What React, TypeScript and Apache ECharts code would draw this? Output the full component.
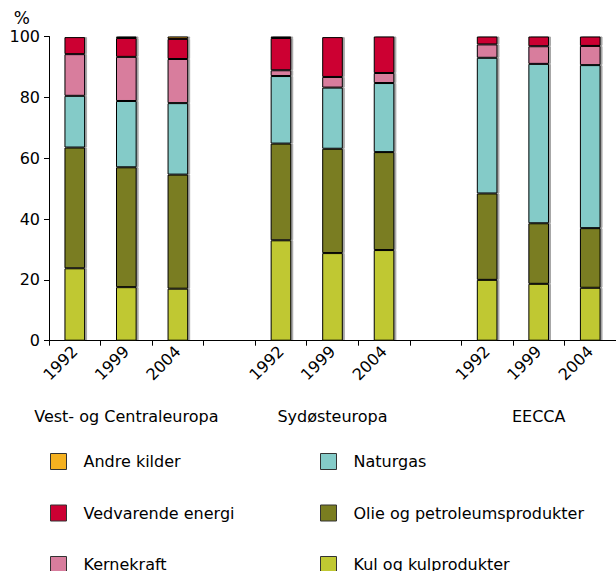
import React, { useEffect, useRef } from "react";
import * as echarts from "echarts";

const categories = ["1992", "1999", "2004", "", "1992", "1999", "2004", "", "1992", "1999", "2004"];
const groupLabels = ["", "Vest- og Centraleuropa", "", "", "", "Sydøsteuropa", "", "", "", "EECCA", ""];
const yTicks = [0, 20, 40, 60, 80, 100];

const kul = [23.8, 17.6, 17.1, null, 33.0, 28.8, 29.8, null, 20.0, 18.7, 17.4];
const olie = [39.7, 39.4, 37.5, null, 31.8, 34.3, 32.2, null, 28.4, 19.9, 19.6];
const naturgas = [17.0, 21.8, 23.5, null, 22.2, 20.1, 22.7, null, 44.6, 52.4, 53.6];
const kernekraft = [13.7, 14.5, 14.5, null, 1.9, 3.5, 3.3, null, 4.4, 5.8, 6.3];
const vedvarende = [5.6, 6.2, 6.6, null, 10.6, 13.1, 12.0, null, 2.6, 3.2, 3.1];
const andre = [0.2, 0.5, 0.8, null, 0.5, 0.2, 0.0, null, 0.0, 0.0, 0.0];

const FONT = "DejaVu Sans";

export default function App() {
  const ref = useRef<HTMLDivElement>(null);
  useEffect(() => {
    if (!ref.current) return;
    const chart = echarts.init(ref.current, null, { renderer: "svg" });
    const mk = (name: string, data: (number | null)[], color: string) => ({
      name,
      type: "bar",
      stack: "total",
      xAxisIndex: 0,
      data,
      barWidth: "40%",
      itemStyle: {
        color,
        borderColor: "#000",
        borderWidth: 1,
        shadowColor: "rgba(0,0,0,0.35)",
        shadowOffsetX: 2,
        shadowBlur: 0,
      },
    });
    const legendCommon = {
      orient: "vertical",
      icon: "rect",
      padding: 0,
      itemWidth: 16,
      itemHeight: 16,
      itemGap: 34.5,
      height: 140,
      itemStyle: { borderColor: "#333", borderWidth: 1 },
      textStyle: { fontFamily: FONT, fontSize: 16, color: "#000", padding: [0, 0, 0, 12] },
      selectedMode: false,
    };
    chart.setOption({
      animation: false,
      textStyle: { fontFamily: FONT },
      grid: { left: 49, right: 0, top: 36.5, bottom: 230.3, containLabel: false },
      legend: [
        { ...legendCommon, left: 50, top: 453, data: ["Andre kilder", "Vedvarende energi", "Kernekraft"] },
        { ...legendCommon, left: 320, top: 453, data: ["Naturgas", "Olie og petroleumsprodukter", "Kul og kulprodukter"] },
      ],
      xAxis: [
        {
          type: "category",
          data: categories,
          boundaryGap: true,
          axisLine: { lineStyle: { color: "#000", width: 1 } },
          axisTick: { show: true, length: 5, lineStyle: { color: "#000" } },
          axisLabel: { interval: 0, rotate: 45, fontSize: 16, color: "#000", fontFamily: FONT, margin: 8 },
        },
        {
          type: "category",
          data: groupLabels,
          position: "bottom",
          offset: 60,
          axisLine: { show: false },
          axisTick: { show: false },
          axisLabel: { interval: 0, fontSize: 16, color: "#000", fontFamily: FONT, margin: 8 },
        },
      ],
      yAxis: {
        type: "value",
        min: yTicks[0],
        max: yTicks[yTicks.length - 1],
        interval: 20,
        name: "%",
        nameLocation: "end",
        nameGap: 10,
        nameTextStyle: { fontSize: 17, color: "#000", fontFamily: FONT, align: "right", padding: [0, 19, 0, 0] },
        axisLine: { show: true, lineStyle: { color: "#000", width: 1 } },
        axisTick: { show: true, length: 5, lineStyle: { color: "#000" } },
        splitLine: { show: false },
        axisLabel: { fontSize: 16, color: "#000", fontFamily: FONT, margin: 9 },
      },
      series: [
        mk("Kul og kulprodukter", kul, "#c0c832"),
        mk("Olie og petroleumsprodukter", olie, "#7a7d20"),
        mk("Naturgas", naturgas, "#84cbc8"),
        mk("Kernekraft", kernekraft, "#d87d9d"),
        mk("Vedvarende energi", vedvarende, "#cc0033"),
        mk("Andre kilder", andre, "#f5b120"),
      ],
    });
    return () => chart.dispose();
  }, []);
  return <div ref={ref} style={{ position: "absolute", left: 0, top: 0, width: 616, height: 571 }} />;
}
